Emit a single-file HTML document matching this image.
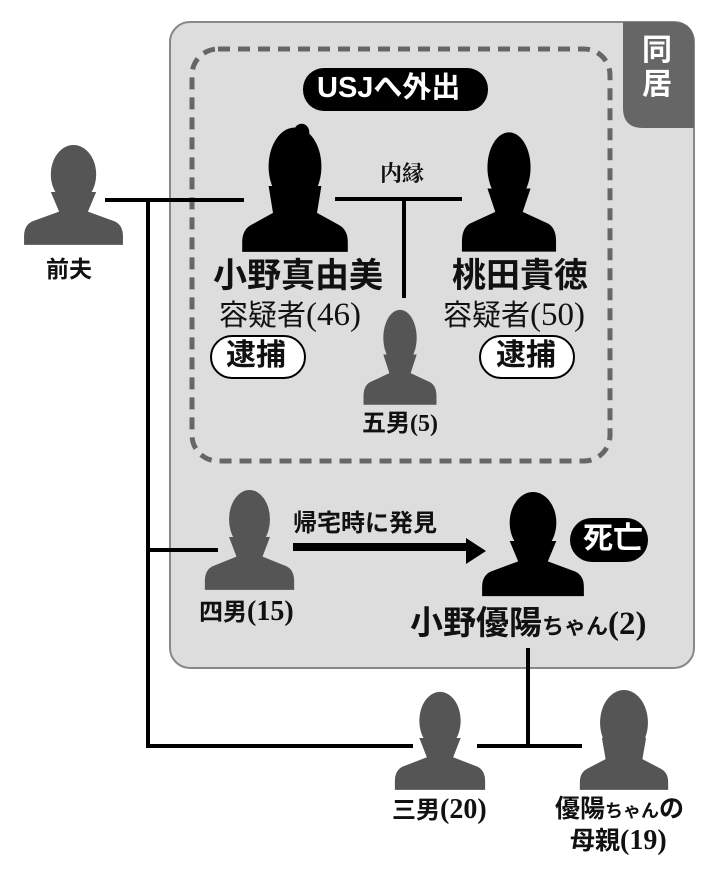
<!DOCTYPE html>
<html><head><meta charset="utf-8"><style>
body{margin:0;width:714px;height:873px;background:#fff;position:relative;overflow:hidden;font-family:"Liberation Sans","Noto Sans CJK JP",sans-serif;}
.t{position:absolute;white-space:nowrap;color:#111;font-weight:bold;line-height:1;}
.s{font-family:"Liberation Serif","Noto Serif CJK SC",serif;}
</style></head><body>
<svg width="714" height="873" style="position:absolute;left:0;top:0">
<defs>
<g id="man"><ellipse cx="50" cy="32" rx="22" ry="30"/><path d="M28 50 L36 70 L10 80 Q2 84 2 95 L2 104 L98 104 L98 95 Q98 84 90 80 L64 70 L72 50 Z"/></g>
<g id="woman"><ellipse cx="50" cy="34" rx="24" ry="32"/><circle cx="56" cy="6" r="7"/><path d="M26 50 L30 72 L10 82 Q2 86 2 96 L2 104 L98 104 L98 96 Q98 86 90 82 L70 72 L74 50 Z"/></g>
<g id="woman2"><ellipse cx="50" cy="34" rx="26" ry="34"/><path d="M26 50 L30 72 L10 82 Q2 86 2 96 L2 104 L98 104 L98 96 Q98 86 90 82 L70 72 L74 50 Z"/></g>
</defs>
<rect x="170" y="22" width="524" height="646" rx="20" fill="#dddddd" stroke="#888" stroke-width="2"/>
<path d="M623 22 H674 Q694 22 694 42 V128 H643 Q623 128 623 108 Z" fill="#666"/>
<rect x="192" y="49" width="418" height="412" rx="26" fill="none" stroke="#666" stroke-width="5" stroke-dasharray="12 8"/>
<rect x="303" y="68" width="185" height="43" rx="21" fill="#000"/>
<g stroke="#000" stroke-width="4" fill="none">
<path d="M105 200 H244 M148 200 V746 H413 M335 199 H462 M404 199 V298 M148 550 H218 M528 648 V746 M477 746 H582"/>
</g>
<path d="M293 547 H470" stroke="#000" stroke-width="8"/>
<path d="M466 538 L486 551 L466 564 Z" fill="#000"/>
<use href="#man" transform="translate(22,143) scale(1.03,0.98)" fill="#555"/>
<use href="#woman" transform="translate(240,125) scale(1.1,1.22)" fill="#000"/>
<use href="#man" transform="translate(460,130) scale(0.98,1.17)" fill="#000"/>
<use href="#man" transform="translate(362,308) scale(0.76,0.93)" fill="#555"/>
<use href="#man" transform="translate(203,488) scale(0.93,0.98)" fill="#555"/>
<use href="#man" transform="translate(480,490) scale(1.06,1.02)" fill="#000"/>
<use href="#man" transform="translate(393,690) scale(0.94,0.96)" fill="#555"/>
<use href="#woman2" transform="translate(578,690) scale(0.92,0.96)" fill="#555"/>
<rect x="211" y="336" width="94" height="42" rx="21" fill="#fff" stroke="#000" stroke-width="2"/>
<rect x="480" y="336" width="94" height="42" rx="21" fill="#fff" stroke="#000" stroke-width="2"/>
<rect x="570" y="518" width="78" height="44" rx="22" fill="#000"/>
</svg>
<div class="t" style="left:317px;top:74px;font-size:29px;color:#fff">USJへ外出</div>
<div class="t" style="left:642px;top:34px;font-size:30px;color:#fff;width:32px;line-height:34px;white-space:normal">同居</div>
<div class="t s" style="left:380px;top:163px;font-size:22px">内縁</div>
<div class="t" style="left:46px;top:258px;font-size:23px">前夫</div>
<div class="t" style="left:213px;top:259px;font-size:34px">小野真由美</div>
<div class="t" style="left:219px;top:299px;font-size:29px;font-weight:normal">容疑者<span class="s" style="font-size:33px">(46)</span></div>
<div class="t" style="left:226px;top:341px;font-size:30px">逮捕</div>
<div class="t" style="left:452px;top:259px;font-size:34px">桃田貴徳</div>
<div class="t" style="left:443px;top:299px;font-size:29px;font-weight:normal">容疑者<span class="s" style="font-size:33px">(50)</span></div>
<div class="t" style="left:496px;top:341px;font-size:30px">逮捕</div>
<div class="t" style="left:362px;top:412px;font-size:24px">五男<span class="s">(5)</span></div>
<div class="t" style="left:293px;top:512px;font-size:24px">帰宅時に発見</div>
<div class="t" style="left:583px;top:524px;font-size:30px;color:#fff">死亡</div>
<div class="t" style="left:199px;top:598px;font-size:24px">四男<span class="s" style="font-size:28px">(15)</span></div>
<div class="t" style="left:410px;top:606px;font-size:33px">小野優陽<span style="font-size:22px">ちゃん</span><span class="s">(2)</span></div>
<div class="t" style="left:392px;top:796px;font-size:24px">三男<span class="s" style="font-size:28px">(20)</span></div>
<div class="t" style="left:555px;top:797px;font-size:25px">優陽<span style="font-size:18px">ちゃん</span>の</div>
<div class="t" style="left:570px;top:827px;font-size:25px">母親<span class="s" style="font-size:28px">(19)</span></div>
</body></html>
